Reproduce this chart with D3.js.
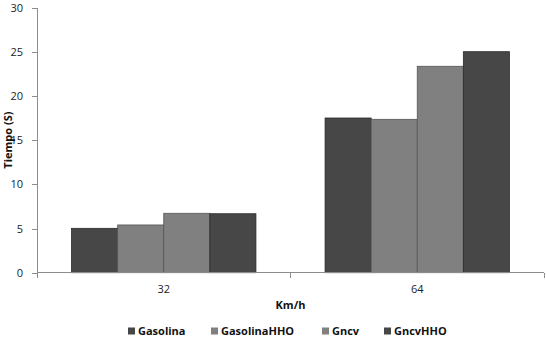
<!DOCTYPE html>
<html lang="es">
<head>
<meta charset="UTF-8">
<title>Tiempo vs Km/h</title>
<style>
	body{margin:0;background:#fff;}
	text{font-family:"Open Sans",sans-serif;}
	.axis path,.axis line{stroke:#8c8c8c;shape-rendering:crispEdges;}
	.axis text{fill:#222;font-size:11px;}
	.title{font-weight:bold;font-size:11px;fill:#111;}
	.legend text{font-weight:bold;font-size:11px;fill:#111;}
</style>
</head>
<body>
<svg width="546" height="337"></svg>
<script src="https://cdn.jsdelivr.net/npm/d3@7/dist/d3.min.js"></script>
<script>
var speeds = ["32","64"];
var series = ["Gasolina","GasolinaHHO","Gncv","GncvHHO"];
var colors = ["#474747","#808080","#808080","#474747"];
var strokes = ["#2a2a2a","#555555","#555555","#2a2a2a"];
var gasolina = [5.02,17.5];
var gasolinaHHO = [5.4,17.35];
var gncv = [6.72,23.35];
var gncvHHO = [6.67,25.0];
var yTicks = [0,5,10,15,20,25,30];

var values = [gasolina,gasolinaHHO,gncv,gncvHHO];

var svg = d3.select("svg"),
	margin = {top:7.5,right:2,bottom:64.3,left:37},
	width = 546 - margin.left - margin.right,
	height = 337 - margin.top - margin.bottom;

var g = svg.append("g")
	.attr("transform","translate("+margin.left+","+margin.top+")");

var x0 = d3.scaleBand().domain(speeds).range([0,width]).paddingInner(0).paddingOuter(0);
var x1 = d3.scaleBand().domain(series).range([0,x0.bandwidth()]).paddingOuter(0.75).paddingInner(0);
var y = d3.scaleLinear().domain([0,30]).range([height,0]);

// y axis
var yAxis = g.append("g").attr("class","axis")
	.call(d3.axisLeft(y).tickValues(yTicks).tickSize(5).tickSizeOuter(0).tickPadding(5));
yAxis.selectAll(".tick text").attr("dx","-4");

// bars
var groups = g.selectAll(".grp").data(speeds).enter().append("g")
	.attr("class","grp")
	.attr("transform",function(d){return "translate("+x0(d)+",0)";});
groups.selectAll("rect")
	.data(function(d,i){return series.map(function(s,j){return {s:s,j:j,v:values[j][i]};});})
	.enter().append("rect")
	.attr("x",function(d){return x1(d.s);})
	.attr("y",function(d){return y(d.v);})
	.attr("width",x1.bandwidth())
	.attr("height",function(d){return height - y(d.v);})
	.attr("fill",function(d){return colors[d.j];})
	.attr("stroke",function(d){return strokes[d.j];})
	.attr("stroke-width",0.8);

// x axis, ticks on the category boundaries
var xAxis = g.append("g").attr("class","axis")
	.attr("transform","translate(0,"+height+")");
xAxis.append("line").attr("x1",0).attr("x2",width).attr("y1",0).attr("y2",0);
xAxis.selectAll(".bt").data([0].concat(speeds.map(function(d){return x0(d)+x0.bandwidth();})))
	.enter().append("line").attr("class","bt")
	.attr("x1",function(d){return d;}).attr("x2",function(d){return d;})
	.attr("y1",0).attr("y2",5);
xAxis.selectAll(".lbl").data(speeds).enter().append("text")
	.attr("x",function(d){return x0(d)+x0.bandwidth()/2;})
	.attr("y",20).attr("text-anchor","middle").text(function(d){return d;});

// titles
svg.append("text").attr("class","title")
	.attr("transform","translate(12,"+(margin.top+height/2)+") rotate(-90)")
	.attr("text-anchor","middle").text("Tiempo (S)");
svg.append("text").attr("class","title")
	.attr("x",margin.left+width/2).attr("y",309)
	.attr("text-anchor","middle").text("Km/h");

// legend
var legX = [128,211,322,384];
var legend = svg.append("g").attr("class","legend");
var item = legend.selectAll("g").data(series).enter().append("g")
	.attr("transform",function(d,i){return "translate("+legX[i]+",331)";});
item.append("rect").attr("x",0).attr("y",-3.5).attr("width",7).attr("height",7)
	.attr("fill",function(d,i){return colors[i];});
item.append("text").attr("x",10).attr("y",4).text(function(d){return d;});
</script>
</body>
</html>
